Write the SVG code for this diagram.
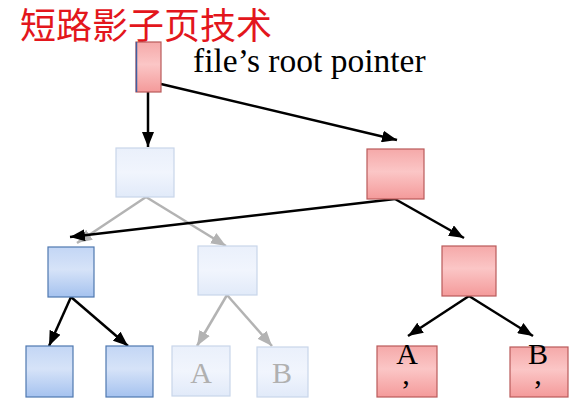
<svg xmlns="http://www.w3.org/2000/svg" width="582" height="412" viewBox="0 0 582 412">
<defs>
<linearGradient id="gRed" x1="0" y1="0" x2="0" y2="1">
<stop offset="0" stop-color="#f5a9a9"/>
<stop offset="0.45" stop-color="#fbc6c6"/>
<stop offset="1" stop-color="#f49a9a"/>
</linearGradient>
<linearGradient id="gBlue" x1="0" y1="0" x2="0" y2="1">
<stop offset="0" stop-color="#c3d6f5"/>
<stop offset="0.45" stop-color="#d6e3f8"/>
<stop offset="1" stop-color="#a5c2ef"/>
</linearGradient>
<linearGradient id="gLight" x1="0" y1="0" x2="0" y2="1">
<stop offset="0" stop-color="#eaf0fb"/>
<stop offset="0.5" stop-color="#f1f5fd"/>
<stop offset="1" stop-color="#e1eaf9"/>
</linearGradient>
<marker id="ab" markerUnits="userSpaceOnUse" markerWidth="15" markerHeight="12" refX="15" refY="6" orient="auto">
<path d="M0,0 L15,6 L0,12 z" fill="#000"/>
</marker>
<marker id="ag" markerUnits="userSpaceOnUse" markerWidth="15" markerHeight="12" refX="15" refY="6" orient="auto">
<path d="M0,0 L15,6 L0,12 z" fill="#b3b3b3"/>
</marker>
</defs>
<style>
.red{fill:url(#gRed);stroke:#b95a5a;stroke-width:1.2}
.blue{fill:url(#gBlue);stroke:#4f78b0;stroke-width:1.2}
.light{fill:url(#gLight);stroke:#c9d6ea;stroke-width:1.2}
.bk{stroke:#000;stroke-width:2.5;fill:none;marker-end:url(#ab)}
.gr{stroke:#b3b3b3;stroke-width:2.5;fill:none;marker-end:url(#ag)}
.serif{font-family:"Liberation Serif","Times New Roman",serif}
.lt{font-size:30px;fill:#b0b0b0;text-anchor:middle}
.dk{font-size:30px;fill:#000;text-anchor:middle}
</style>
<text id="title" x="20" y="39" font-family="'Noto Sans CJK SC','Noto Sans',sans-serif" font-size="36" fill="#e3161c">短路影子页技术</text>
<text id="label" class="serif" x="193" y="72" font-size="33.5" fill="#000">file’s root pointer</text>
<g id="connectors">
<line class="gr" x1="146" y1="197" x2="77" y2="243"/>
<line class="gr" x1="146" y1="197" x2="226" y2="246"/>
<line class="gr" x1="227" y1="295" x2="197" y2="346"/>
<line class="gr" x1="227" y1="295" x2="272" y2="346"/>
<line class="bk" x1="148" y1="92" x2="148" y2="147"/>
<line class="bk" x1="161" y1="84" x2="397" y2="140"/>
<line class="bk" x1="395" y1="199" x2="70" y2="237"/>
<line class="bk" x1="395" y1="199" x2="464" y2="238"/>
<line class="bk" x1="71" y1="297" x2="49" y2="346"/>
<line class="bk" x1="71" y1="297" x2="128" y2="346"/>
<line class="bk" x1="469" y1="296" x2="408" y2="336"/>
<line class="bk" x1="469" y1="296" x2="533" y2="336"/>
</g>
<g id="root"><rect class="red" x="136" y="42" width="25" height="50"/><line x1="136.5" y1="42" x2="136.5" y2="92" stroke="#3f5fa0" stroke-width="1.5"/></g>
<g id="oldTop"><rect class="light" x="116" y="148" width="58" height="49"/></g>
<g id="newTop"><rect class="red" x="367" y="149" width="57" height="50"/></g>
<g id="blueMid"><rect class="blue" x="48" y="247" width="46" height="50"/></g>
<g id="oldMid"><rect class="light" x="198" y="246" width="59" height="49"/></g>
<g id="newMid"><rect class="red" x="442" y="246" width="54" height="50"/></g>
<g id="blueLeaf1"><rect class="blue" x="26" y="346" width="47" height="51"/></g>
<g id="blueLeaf2"><rect class="blue" x="106" y="346" width="47" height="51"/></g>
<g id="oldA"><rect class="light" x="172" y="346" width="58" height="50"/><text class="serif lt" x="201" y="383">A</text></g>
<g id="oldB"><rect class="light" x="257" y="347" width="51" height="50"/><text class="serif lt" x="282" y="383">B</text></g>
<g id="newA"><rect class="red" x="377" y="346" width="60" height="51"/><text class="serif dk"><tspan x="407" y="364">A</tspan><tspan x="406" y="384">,</tspan></text></g>
<g id="newB"><rect class="red" x="510" y="347" width="58" height="50"/><text class="serif dk"><tspan x="538" y="364">B</tspan><tspan x="538" y="384">,</tspan></text></g>
</svg>
